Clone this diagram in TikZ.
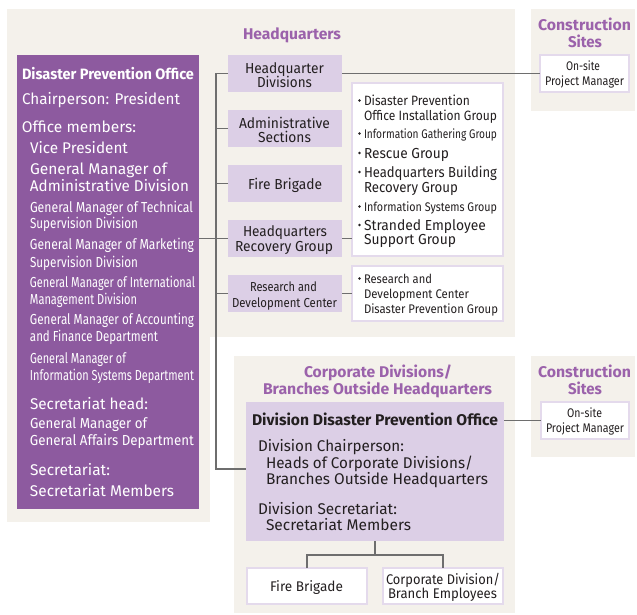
\documentclass[tikz,border=0pt]{standalone}
\usepackage{fontspec}
\setmainfont{Fira Sans}
\usepackage{graphicx}
\definecolor{bgc}{HTML}{F4F1EB}
\definecolor{dpurple}{HTML}{8D5A9F}
\definecolor{tpurple}{HTML}{9B62AB}
\definecolor{lav}{HTML}{DCCFE6}
\definecolor{lavline}{HTML}{E4DAEC}
\definecolor{ink}{HTML}{231F20}
\definecolor{conn}{HTML}{6E6E6E}
\newsavebox\fitbox
\newcommand\fitw[3]{\sbox\fitbox{\fontsize{#1}{#1}\selectfont #3}\pgfmathsetmacro\fitfac{#2/\the\wd\fitbox}\scalebox{\fitfac}[1]{\usebox\fitbox}}
\begin{document}
\begin{tikzpicture}[x=1pt,y=-1pt,
  box/.style={rectangle,inner sep=0,outer sep=0},
  pbox/.style={box,fill=dpurple},
  lbox/.style={box,fill=lav},
  wbox/.style={box,fill=white,draw=lavline,line width=1.2},
  txt/.style={inner sep=0,outer sep=0,text=ink},
  wtxt/.style={txt,text=white},
  ttl/.style={txt,text=tpurple},
  link/.style={draw=conn,line width=1.1},
  bul/.style={circle,fill=ink,inner sep=0,minimum size=2.8}]
\useasboundingbox (0,0) rectangle (637,614);
% background panels
\fill[bgc] (7,9) rectangle (515,337);
\fill[bgc] (7,337) rectangle (210,522);
\fill[bgc] (531,9) rectangle (635,111);
\fill[bgc] (234,356) rectangle (515,613);
\fill[bgc] (531,356) rectangle (635,457);

% boxes
\node[pbox,minimum width=182,minimum height=454] (dpo) at (108,282) {};
\node[lbox,minimum width=114,minimum height=37] (hqdiv) at (285,73.5) {};
\node[lbox,minimum width=114,minimum height=37] (adm) at (285,128.5) {};
\node[lbox,minimum width=114,minimum height=37] (fb) at (285,183.5) {};
\node[lbox,minimum width=114,minimum height=37] (hqrec) at (285,238.5) {};
\node[lbox,minimum width=114,minimum height=37] (rnd) at (285,293.5) {};
\node[wbox,minimum width=151,minimum height=173] (list1) at (427.5,169.5) {};
\node[wbox,minimum width=151,minimum height=55] (list2) at (427.5,293.5) {};
\node[wbox,minimum width=89,minimum height=37] (site1) at (584.5,73.5) {};
\node[wbox,minimum width=88,minimum height=37] (site2) at (585,420.5) {};
\node[lbox,minimum width=258,minimum height=139] (divbox) at (375,471.5) {};
\node[wbox,minimum width=120,minimum height=36] (fb2) at (307,586) {};
\node[wbox,minimum width=120,minimum height=36] (emp) at (443,586) {};

% connectors
\coordinate (busT) at (216,73.5);
\coordinate (busB) at (216,469);
\draw[link] (hqdiv.west) -- (busT) -- (busB) -- (busB -| divbox.west);
\draw[link] (adm.west) -- (adm.west -| busT);
\draw[link] (fb.west) -- (fb.west -| busT);
\draw[link] (rnd.west) -- (rnd.west -| busT);
\draw[link] (hqrec.west -| dpo.east) -- (hqrec.west);
\draw[link] (hqdiv.east) -- (site1.west);
\draw[link] (hqrec.east) -- (hqrec.east -| list1.west);
\draw[link] (rnd.east) -- (rnd.east -| list2.west);
\draw[link] (site2.west -| divbox.east) -- (site2.west);
\draw[link] (divbox.south) -- ++(0,14) coordinate (split);
\draw[link] (fb2.north) |- (split) -| (emp.north);

% titles
\node[ttl,anchor=base] (t-hq) at (292,39) {\fitw{15.5}{98}{\bfseries Headquarters}};
\node[ttl,anchor=base] (t-cs1a) at (584.5,30) {\fitw{15.5}{93}{\bfseries Construction}};
\node[ttl,anchor=base] (t-cs1b) at (585,47) {\fitw{15.5}{34}{\bfseries Sites}};
\node[ttl,anchor=base] (t-cs2a) at (584.5,377) {\fitw{15.5}{93}{\bfseries Construction}};
\node[ttl,anchor=base] (t-cs2b) at (585,394) {\fitw{15.5}{34}{\bfseries Sites}};
\node[ttl,anchor=base] (t-cda) at (378,377) {\fitw{15.5}{148}{\bfseries Corporate Divisions/}};
\node[ttl,anchor=base] (t-cdb) at (377.5,394) {\fitw{15.5}{229}{\bfseries Branches Outside Headquarters}};

% purple box text
\node[wtxt,anchor=base west] (p1) at (22,79) {\fitw{15}{172}{\bfseries Disaster Prevention Office}};
\node[wtxt,anchor=base west] (p2) at (22,104) {\fitw{15.5}{158}{Chairperson: President}};
\node[wtxt,anchor=base west] (p3) at (22,132) {\fitw{15.5}{114}{Office members:}};
\node[wtxt,anchor=base west] (p4) at (30,153) {\fitw{15.5}{98}{Vice President}};
\node[wtxt,anchor=base west] (p5) at (30,174) {\fitw{15.5}{137}{General Manager of}};
\node[wtxt,anchor=base west] (p6) at (30,191) {\fitw{15.5}{159}{Administrative Division}};
\node[wtxt,anchor=base west] (p7) at (30,212) {\fitw{14.5}{163}{General Manager of Technical}};
\node[wtxt,anchor=base west] (p8) at (30,228) {\fitw{14.5}{108}{Supervision Division}};
\node[wtxt,anchor=base west] (p9) at (30,249) {\fitw{14.5}{164}{General Manager of Marketing}};
\node[wtxt,anchor=base west] (p10) at (30,267) {\fitw{14.5}{108}{Supervision Division}};
\node[wtxt,anchor=base west] (p11) at (30,287) {\fitw{14.5}{165}{General Manager of International}};
\node[wtxt,anchor=base west] (p12) at (30,304) {\fitw{14.5}{107}{Management Division}};
\node[wtxt,anchor=base west] (p13) at (30,324) {\fitw{14.5}{164}{General Manager of Accounting}};
\node[wtxt,anchor=base west] (p14) at (30,341) {\fitw{14.5}{128}{and Finance Department}};
\node[wtxt,anchor=base west] (p15) at (30,363) {\fitw{14.5}{96}{General Manager of}};
\node[wtxt,anchor=base west] (p16) at (30,380) {\fitw{14.5}{164}{Information Systems Department}};
\node[wtxt,anchor=base west] (p17) at (30,409) {\fitw{15.5}{118}{Secretariat head:}};
\node[wtxt,anchor=base west] (p18) at (30,428) {\fitw{14.5}{117}{General Manager of}};
\node[wtxt,anchor=base west] (p19) at (30,445) {\fitw{14.5}{164}{General Affairs Department}};
\node[wtxt,anchor=base west] (p20) at (30,475) {\fitw{15.5}{80}{Secretariat:}};
\node[wtxt,anchor=base west] (p21) at (30,496) {\fitw{15.5}{144}{Secretariat Members}};

% HQ box texts
\node[txt,anchor=base] (h1a) at (284.5,73) {\fitw{14.5}{79}{Headquarter}};
\node[txt,anchor=base] (h1b) at (284.5,87) {\fitw{14.5}{55}{Divisions}};
\node[txt,anchor=base] (h2a) at (284.5,128) {\fitw{14.5}{91}{Administrative}};
\node[txt,anchor=base] (h2b) at (284.5,142) {\fitw{14.5}{53}{Sections}};
\node[txt,anchor=base] (h3) at (285,189) {\fitw{14.5}{74}{Fire Brigade}};
\node[txt,anchor=base] (h4a) at (285,236) {\fitw{14.5}{84}{Headquarters}};
\node[txt,anchor=base] (h4b) at (284,251) {\fitw{14.5}{98}{Recovery Group}};
\node[txt,anchor=base] (h5a) at (283.5,291) {\fitw{13}{67}{Research and}};
\node[txt,anchor=base] (h5b) at (284.5,307) {\fitw{13}{105}{Development Center}};

% list 1
\node[bul] (b1) at (359.5,100.5) {};
\node[txt,anchor=base west] (l1a) at (364,105) {\fitw{13.5}{106}{Disaster Prevention}};
\node[txt,anchor=base west] (l1b) at (364,120) {\fitw{13.5}{133}{Office Installation Group}};
\node[bul] (b2) at (359.5,133.5) {};
\node[txt,anchor=base west] (l2) at (364,138) {\fitw{12.5}{133}{Information Gathering Group}};
\node[bul] (b3) at (359.5,153) {};
\node[txt,anchor=base west] (l3) at (364,158) {\fitw{14.5}{85}{Rescue Group}};
\node[bul] (b4) at (359.5,172) {};
\node[txt,anchor=base west] (l4a) at (364,177) {\fitw{14.5}{133}{Headquarters Building}};
\node[txt,anchor=base west] (l4b) at (364,192) {\fitw{14.5}{94}{Recovery Group}};
\node[bul] (b5) at (359.5,206.5) {};
\node[txt,anchor=base west] (l5) at (364,211) {\fitw{12.5}{133}{Information Systems Group}};
\node[bul] (b6) at (359.5,225) {};
\node[txt,anchor=base west] (l6a) at (364,230) {\fitw{14.5}{122}{Stranded Employee}};
\node[txt,anchor=base west] (l6b) at (364,244) {\fitw{14.5}{92}{Support Group}};
% list 2
\node[bul] (b7) at (359.5,278.5) {};
\node[txt,anchor=base west] (l7a) at (364,283) {\fitw{12.5}{68}{Research and}};
\node[txt,anchor=base west] (l7b) at (364,298) {\fitw{12.5}{105}{Development Center}};
\node[txt,anchor=base west] (l7c) at (364,313) {\fitw{12.5}{134}{Disaster Prevention Group}};

% on-site boxes
\node[txt,anchor=base] (s1a) at (583,70) {\fitw{12.5}{34}{On-site}};
\node[txt,anchor=base] (s1b) at (584.5,85) {\fitw{12.5}{79}{Project Manager}};
\node[txt,anchor=base] (s2a) at (584.5,417) {\fitw{12.5}{35}{On-site}};
\node[txt,anchor=base] (s2b) at (585,432) {\fitw{12.5}{78}{Project Manager}};

% division box text
\node[txt,anchor=base west] (d1) at (252,425) {\fitw{15.5}{246}{\bfseries Division Disaster Prevention Office}};
\node[txt,anchor=base west] (d2) at (258,451) {\fitw{15.5}{146}{Division Chairperson:}};
\node[txt,anchor=base west] (d3) at (266,468) {\fitw{15.5}{207}{Heads of Corporate Divisions/}};
\node[txt,anchor=base west] (d4) at (266,484) {\fitw{15.5}{222}{Branches Outside Headquarters}};
\node[txt,anchor=base west] (d5) at (258,514) {\fitw{15.5}{139}{Division Secretariat:}};
\node[txt,anchor=base west] (d6) at (266,530) {\fitw{15.5}{145}{Secretariat Members}};

% bottom boxes text
\node[txt,anchor=base] (f1) at (306.5,591) {\fitw{14}{73}{Fire Brigade}};
\node[txt,anchor=base] (e1) at (443,584) {\fitw{14}{114}{Corporate Division/}};
\node[txt,anchor=base] (e2) at (442.5,598) {\fitw{14}{109}{Branch Employees}};
\end{tikzpicture}
\end{document}
